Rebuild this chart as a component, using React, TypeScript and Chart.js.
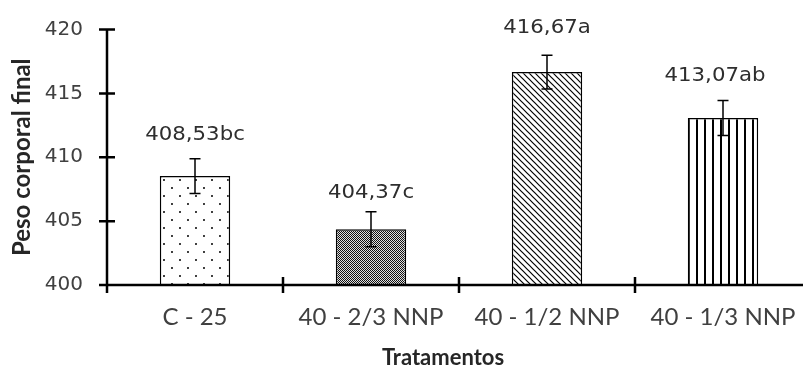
import { useEffect, useRef } from "react";
import { Chart, registerables } from "chart.js";

Chart.register(...registerables);

const categories = ["C - 25", "40 - 2/3 NNP", "40 - 1/2 NNP", "40 - 1/3 NNP"];
const values = [408.53, 404.37, 416.67, 413.07];
const errors = [1.36, 1.37, 1.32, 1.37];
const letters = ["bc", "c", "a", "ab"];
const yMin = 400;
const yMax = 420;
const yStep = 5;
const xTitle = "Tratamentos";
const yTitle = "Peso corporal final";

// label nudges (style only): gap above error cap, horizontal shift
const labelGap = [19, 14, 22, 20];
const labelDx = [0, 0, 0, -8];

function makePattern(kind: string): CanvasPattern | string {
  const c = document.createElement("canvas");
  let s = 8;
  if (kind === "dots") s = 16;
  if (kind === "dense") s = 2;
  if (kind === "diag") s = 6;
  if (kind === "vert") s = 8;
  c.width = s;
  c.height = s;
  const g = c.getContext("2d")!;
  g.fillStyle = "#ffffff";
  g.fillRect(0, 0, s, s);
  g.fillStyle = "#000000";
  g.strokeStyle = "#000000";
  if (kind === "dots") {
    g.beginPath();
    g.arc(4, 4, 1, 0, Math.PI * 2);
    g.arc(12, 12, 1, 0, Math.PI * 2);
    g.fill();
  } else if (kind === "dense") {
    g.fillStyle = "#e0e0e0";
    g.fillRect(0, 0, 2, 2);
    g.fillStyle = "#111111";
    g.fillRect(0, 0, 1, 1);
    g.fillRect(1, 1, 1, 1);
  } else if (kind === "diag") {
    g.lineWidth = 1.2;
    g.beginPath();
    g.moveTo(-1, -1);
    g.lineTo(s + 1, s + 1);
    g.moveTo(-1, s - 1);
    g.lineTo(1, s + 1);
    g.moveTo(s - 1, -1);
    g.lineTo(s + 1, 1);
    g.stroke();
  } else if (kind === "vert") {
    g.fillRect(0, 0, 2, s);
  }
  const p = g.createPattern(c, "repeat");
  return p || "#ffffff";
}

const fmt = (v: number) => v.toFixed(2).replace(".", ",");

const decoPlugin = {
  id: "deco",
  afterDatasetsDraw(chart: any) {
    const ctx: CanvasRenderingContext2D = chart.ctx;
    const ys = chart.scales.y;
    const xs = chart.scales.x;
    const meta = chart.getDatasetMeta(0);
    const area = chart.chartArea;
    ctx.save();

    // error bars
    ctx.strokeStyle = "#000000";
    ctx.lineWidth = 1.5;
    meta.data.forEach((bar: any, i: number) => {
      const x = bar.x;
      const top = ys.getPixelForValue(values[i] + errors[i]);
      const bot = ys.getPixelForValue(values[i] - errors[i]);
      ctx.beginPath();
      ctx.moveTo(x, top);
      ctx.lineTo(x, bot);
      ctx.moveTo(x - 5.5, top);
      ctx.lineTo(x + 5.5, top);
      ctx.moveTo(x - 5.5, bot);
      ctx.lineTo(x + 5.5, bot);
      ctx.stroke();

      // value label
      const text = fmt(values[i]) + letters[i];
      ctx.save();
      ctx.fillStyle = "#2e2e2e";
      ctx.font = "19px 'DejaVu Sans'";
      ctx.textAlign = "center";
      ctx.textBaseline = "alphabetic";
      ctx.translate(x + labelDx[i], top - labelGap[i]);
      ctx.scale(1.12, 1);
      ctx.fillText(text, 0, 0);
      ctx.restore();
    });

    // axes
    ctx.strokeStyle = "#000000";
    ctx.lineWidth = 2.5;
    ctx.beginPath();
    ctx.moveTo(area.left, area.top);
    ctx.lineTo(area.left, area.bottom + 8);
    ctx.moveTo(area.left, area.bottom);
    ctx.lineTo(area.right + 10, area.bottom);
    for (let v = yMin; v <= yMax; v += yStep) {
      const py = ys.getPixelForValue(v);
      ctx.moveTo(area.left - 8, py);
      ctx.lineTo(area.left + 8, py);
    }
    const n = categories.length;
    const w = (xs.right - xs.left) / n;
    for (let i = 0; i <= n; i++) {
      const px = xs.left + i * w;
      ctx.moveTo(px, area.bottom - 8);
      ctx.lineTo(px, area.bottom + 8);
    }
    ctx.stroke();

    // x title
    ctx.fillStyle = "#262626";
    ctx.font = "bold 22px Lato";
    ctx.textAlign = "center";
    ctx.textBaseline = "alphabetic";
    ctx.fillText(xTitle, 443, 365);
    ctx.restore();
  },
};

export default function App() {
  const ref = useRef<HTMLCanvasElement>(null);
  useEffect(() => {
    const canvas = ref.current!;
    const fills = [makePattern("dots"), makePattern("dense"), makePattern("diag"), makePattern("vert")];
    const chart = new Chart(canvas, {
      type: "bar",
      data: {
        labels: categories,
        datasets: [
          {
            data: values,
            backgroundColor: fills as any,
            borderColor: "#000000",
            borderWidth: 1.5,
            barPercentage: 0.4,
            categoryPercentage: 1,
          },
        ],
      },
      options: {
        responsive: false,
        animation: false,
        devicePixelRatio: 1,
        layout: { padding: { top: 29.5, right: 9, left: 0, bottom: 0 } },
        plugins: { legend: { display: false }, tooltip: { enabled: false } },
        scales: {
          x: {
            grid: { display: false, drawTicks: false },
            border: { display: false },
            ticks: {
              color: "#404040",
              font: { family: "Lato", size: 24 },
              padding: 18,
              maxRotation: 0,
              autoSkip: false,
            },
            afterFit: (s: any) => {
              s.height = 86;
              s.paddingLeft = 0;
              s.paddingRight = 0;
            },
          },
          y: {
            min: yMin,
            max: yMax,
            grid: { display: false, drawTicks: false },
            border: { display: false },
            ticks: {
              stepSize: yStep,
              color: "#404040",
              font: { family: "DejaVu Sans", size: 20 },
              padding: 24,
            },
            title: {
              display: true,
              text: yTitle,
              color: "#262626",
              font: { family: "Lato", size: 24, weight: "bold" },
              padding: { top: 8, bottom: 0 },
            },
            afterFit: (s: any) => {
              s.width = 107;
              s.paddingTop = 0;
              s.paddingBottom = 0;
            },
          },
        },
      },
      plugins: [decoPlugin],
    });
    return () => chart.destroy();
  }, []);

  return (
    <div
      style={{
        position: "fixed",
        left: 0,
        top: 0,
        width: 803,
        height: 371,
        overflow: "hidden",
        background: "#ffffff",
      }}
    >
      <canvas ref={ref} width={820} height={371} style={{ width: 820, height: 371, display: "block" }} />
    </div>
  );
}
